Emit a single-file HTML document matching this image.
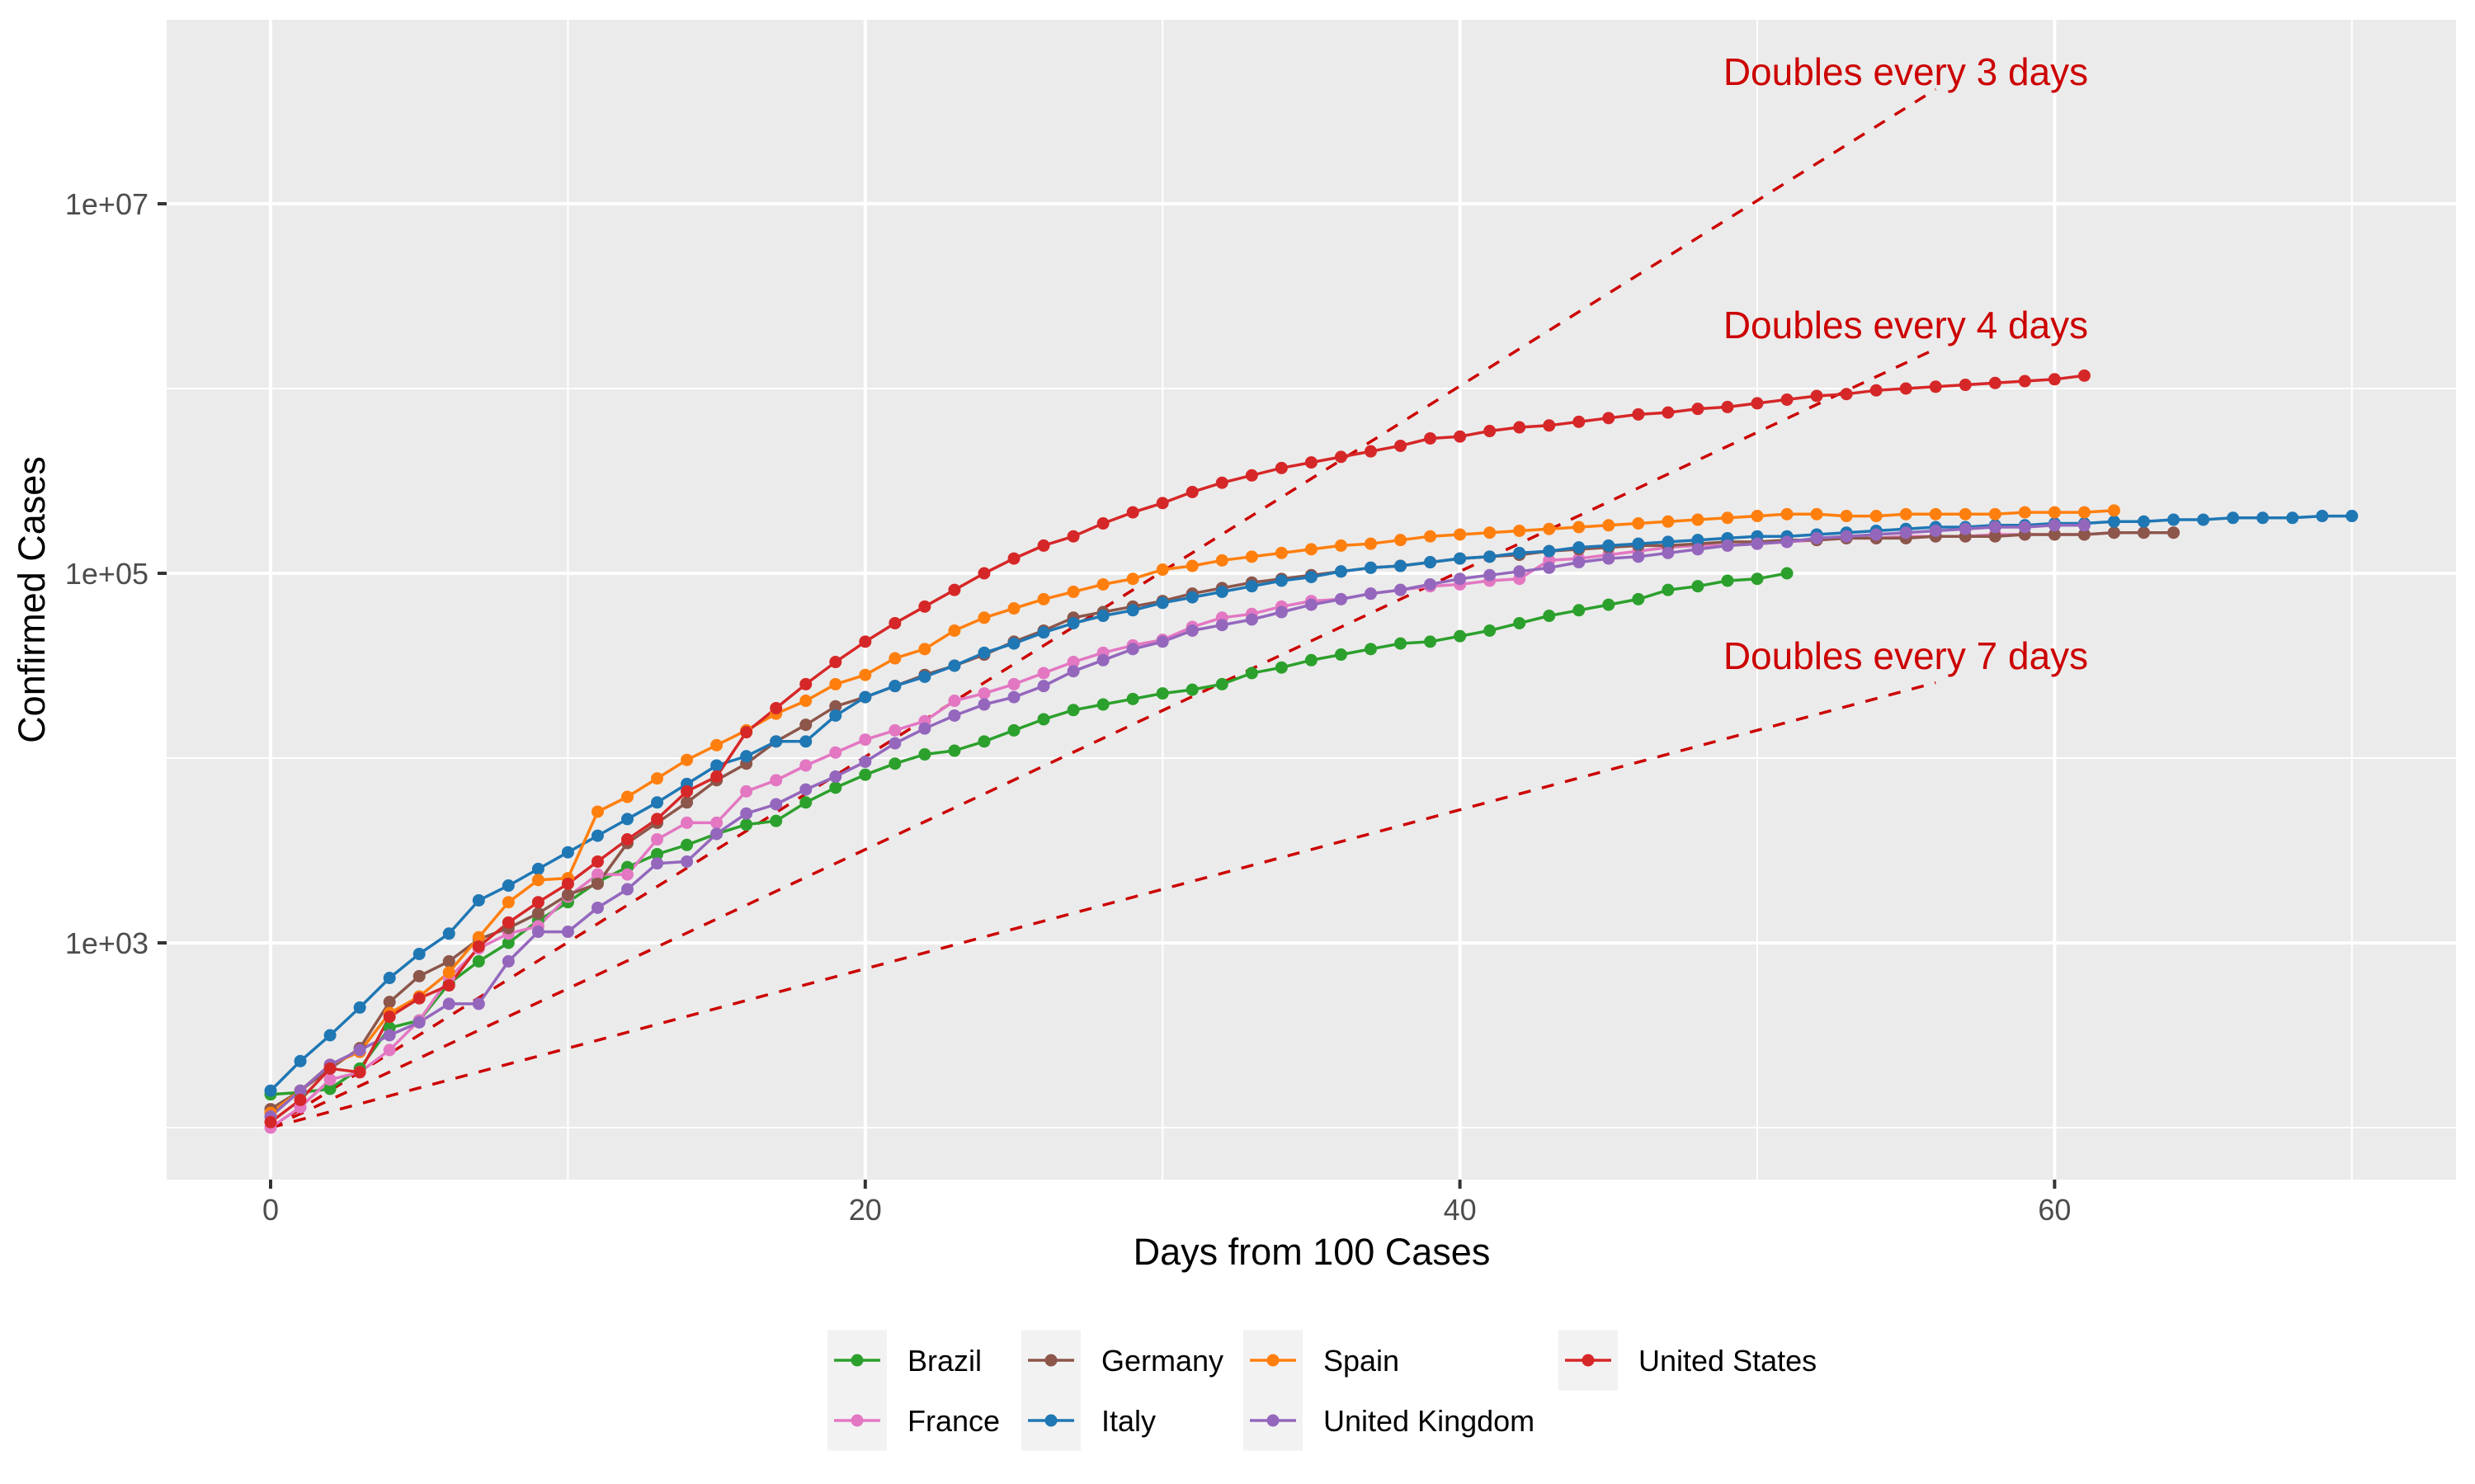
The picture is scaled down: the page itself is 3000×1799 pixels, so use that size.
<!DOCTYPE html>
<html><head><meta charset="utf-8"><style>
html,body{margin:0;padding:0;background:#fff;}
svg{display:block;font-family:"Liberation Sans",Arial,sans-serif;}
</style></head><body>
<svg id="chart" width="3000" height="1799" viewBox="0 0 3000 1799" xmlns="http://www.w3.org/2000/svg">
<rect x="202" y="24" width="2775" height="1406" fill="#EBEBEB"/>
<g id="grid"></g>
<g id="dbl"></g>
<g id="series"></g>
<g id="axes"></g>
<text x="1590" y="1533" font-size="45" text-anchor="middle" fill="#000">Days from 100 Cases</text>
<text transform="translate(54,727) rotate(-90)" font-size="45" text-anchor="middle" fill="#000">Confirmed Cases</text>
<g id="legend"></g>
</svg>
<script>
const countries = ["Brazil","France","Germany","Italy","Spain","United Kingdom","United States"];
const colors = ["#2CA02C","#E377C2","#8C564B","#1F77B4","#FF7F0E","#9467BD","#D62728"];
// log10(confirmed cases) by day since 100 cases
const brazilLog = [2.18,2.19,2.21,2.32,2.54,2.58,2.78,2.9,3.0,3.12,3.22,3.33,3.41,3.48,3.53,3.59,3.64,3.66,3.76,3.84,3.91,3.97,4.02,4.04,4.09,4.15,4.21,4.26,4.29,4.32,4.35,4.37,4.4,4.46,4.49,4.53,4.56,4.59,4.62,4.63,4.66,4.69,4.73,4.77,4.8,4.83,4.86,4.91,4.93,4.96,4.97,5.0];
const franceLog = [2.0,2.11,2.26,2.3,2.42,2.58,2.81,2.97,3.05,3.09,3.25,3.37,3.37,3.56,3.65,3.65,3.82,3.88,3.96,4.03,4.1,4.15,4.2,4.31,4.35,4.4,4.46,4.52,4.57,4.61,4.64,4.71,4.76,4.78,4.82,4.85,4.86,4.89,4.91,4.93,4.94,4.96,4.97,5.07,5.08,5.1,5.12,5.14,5.15,5.15,5.16,5.17,5.18,5.19,5.19,5.2,5.2,5.2,5.21,5.21,5.21,5.21,5.22,5.22,5.22];
const germanyLog = [2.1,2.2,2.32,2.43,2.68,2.82,2.9,3.02,3.08,3.16,3.26,3.32,3.54,3.65,3.76,3.88,3.97,4.09,4.18,4.28,4.33,4.39,4.45,4.5,4.56,4.63,4.69,4.76,4.79,4.82,4.85,4.89,4.92,4.95,4.97,4.99,5.01,5.03,5.04,5.06,5.08,5.09,5.1,5.12,5.13,5.14,5.15,5.15,5.16,5.17,5.17,5.18,5.18,5.19,5.19,5.19,5.2,5.2,5.2,5.21,5.21,5.21,5.22,5.22,5.22];
const italyLog = [2.2,2.36,2.5,2.65,2.81,2.94,3.05,3.23,3.31,3.4,3.49,3.58,3.67,3.76,3.86,3.96,4.01,4.09,4.09,4.23,4.33,4.39,4.44,4.5,4.57,4.62,4.68,4.73,4.77,4.8,4.84,4.87,4.9,4.93,4.96,4.98,5.01,5.03,5.04,5.06,5.08,5.09,5.11,5.12,5.14,5.15,5.16,5.17,5.18,5.19,5.2,5.2,5.21,5.22,5.23,5.24,5.25,5.25,5.26,5.26,5.27,5.27,5.28,5.28,5.29,5.29,5.3,5.3,5.3,5.31,5.31];
const spainLog = [2.08,2.2,2.34,2.41,2.62,2.71,2.84,3.03,3.22,3.34,3.35,3.71,3.79,3.89,3.99,4.07,4.15,4.24,4.31,4.4,4.45,4.54,4.59,4.69,4.76,4.81,4.86,4.9,4.94,4.97,5.02,5.04,5.07,5.09,5.11,5.13,5.15,5.16,5.18,5.2,5.21,5.22,5.23,5.24,5.25,5.26,5.27,5.28,5.29,5.3,5.31,5.32,5.32,5.31,5.31,5.32,5.32,5.32,5.32,5.33,5.33,5.33,5.34];
const ukLog = [2.06,2.2,2.34,2.42,2.5,2.57,2.67,2.67,2.9,3.06,3.06,3.19,3.29,3.43,3.44,3.59,3.7,3.75,3.83,3.9,3.98,4.08,4.16,4.23,4.29,4.33,4.39,4.47,4.53,4.59,4.63,4.69,4.72,4.75,4.79,4.83,4.86,4.89,4.91,4.94,4.97,4.99,5.01,5.03,5.06,5.08,5.09,5.11,5.13,5.15,5.16,5.17,5.19,5.2,5.21,5.22,5.23,5.24,5.25,5.25,5.26,5.26];
const usLog = [2.03,2.15,2.32,2.3,2.6,2.7,2.77,2.98,3.11,3.22,3.32,3.44,3.56,3.67,3.82,3.9,4.14,4.27,4.4,4.52,4.63,4.73,4.82,4.91,5.0,5.08,5.15,5.2,5.27,5.33,5.38,5.44,5.49,5.53,5.57,5.6,5.63,5.66,5.69,5.73,5.74,5.77,5.79,5.8,5.82,5.84,5.86,5.87,5.89,5.9,5.92,5.94,5.96,5.97,5.99,6.0,6.01,6.02,6.03,6.04,6.05,6.07];
const seriesLog = [brazilLog,franceLog,germanyLog,italyLog,spainLog,ukLog,usLog];
const doublingDays = [3,4,7];
const doublingLabels = ["Doubles every 3 days","Doubles every 4 days","Doubles every 7 days"];
const xTicks = [0,20,40,60];
const xMinor = [10,30,50,70];
const yTicks = [3,5,7];
const yTickLabels = ["1e+03","1e+05","1e+07"];
const yMinor = [2,4,6];

const NS="http://www.w3.org/2000/svg";
const PX0=202,PX1=2977,PY0=24,PY1=1430;
function xs(d){return 328+d*36.04;}
function ys(l){return 1143-(l-3)*224;}
function mk(tag,attrs,parent){const e=document.createElementNS(NS,tag);for(const k in attrs)e.setAttribute(k,attrs[k]);parent.appendChild(e);return e;}

const grid=document.getElementById('grid');
yMinor.forEach(v=>{const l=mk('line',{x1:PX0,x2:PX1,y1:ys(v),y2:ys(v),stroke:'#fff','stroke-width':2},grid);

});
xMinor.forEach(v=>{const l=mk('line',{x1:xs(v),x2:xs(v),y1:PY0,y2:PY1,stroke:'#fff','stroke-width':2},grid);

});
yTicks.forEach(v=>{const l=mk('line',{x1:PX0,x2:PX1,y1:ys(v),y2:ys(v),stroke:'#fff','stroke-width':4},grid);

});
xTicks.forEach(v=>{const l=mk('line',{x1:xs(v),x2:xs(v),y1:PY0,y2:PY1,stroke:'#fff','stroke-width':4},grid);

});

const axes=document.getElementById('axes');
yTicks.forEach((v,i)=>{
 const t=mk('line',{x1:191,x2:PX0,y1:ys(v),y2:ys(v),stroke:'#333','stroke-width':4},axes);
 
 
 const tx=mk('text',{x:180,y:ys(v)+13,'font-size':36,'text-anchor':'end',fill:'#4D4D4D'},axes);
 tx.textContent=yTickLabels[i];
 
 
});
xTicks.forEach(v=>{
 const t=mk('line',{x1:xs(v),x2:xs(v),y1:PY1,y2:PY1+11,stroke:'#333','stroke-width':4},axes);
 
 
 const tx=mk('text',{x:xs(v),y:1479,'font-size':36,'text-anchor':'middle',fill:'#4D4D4D'},axes);
 tx.textContent=String(v);
 
 
});

const dbl=document.getElementById('dbl');
const labelBase=[103,410,811];
doublingDays.forEach((dd,i)=>{
 const endDay=56;
 const l=mk('line',{x1:xs(0),y1:ys(2),x2:xs(endDay),y2:ys(2+endDay/dd*Math.log10(2)),stroke:'#CC0000','stroke-width':3.5,'stroke-dasharray':'15 14'},dbl);
 
 
 const t=mk('text',{x:2310,y:labelBase[i],'font-size':46,'text-anchor':'middle',fill:'#CC0000'},dbl);
 t.textContent=doublingLabels[i];
 
 
});

const sg=document.getElementById('series');
seriesLog.forEach((arr,ci)=>{
 const pts=arr.map((v,d)=>xs(d).toFixed(1)+','+ys(v).toFixed(1)).join(' ');
 const pl=mk('polyline',{points:pts,fill:'none',stroke:colors[ci],'stroke-width':3.5,'stroke-linejoin':'round'},sg);
 
 
});
seriesLog.forEach((arr,ci)=>{
 arr.forEach((v,d)=>{
  const c=mk('circle',{cx:xs(d),cy:ys(v),r:7.5,fill:colors[ci]},sg);
  
  
 });
});

const lg=document.getElementById('legend');
const keyX=[1003,1238,1507,1889];
const rowY=[1649,1722];
const order=[[0,1],[2,3],[4,5],[6]];
order.forEach((col,cx)=>{
 col.forEach((ci,r)=>{
  const cy=rowY[r];
  const bg=mk('rect',{x:keyX[cx],y:cy-36.5,width:72,height:73,fill:'#F2F2F2'},lg);
  
  
  const ln=mk('line',{x1:keyX[cx]+8,x2:keyX[cx]+64,y1:cy,y2:cy,stroke:colors[ci],'stroke-width':3.5},lg);
  
  
  const dot=mk('circle',{cx:keyX[cx]+36,cy:cy,r:7.5,fill:colors[ci]},lg);
  
  
  const t=mk('text',{x:keyX[cx]+97,y:cy+13,'font-size':36,fill:'#000'},lg);
  t.textContent=countries[ci];
  
  
 });
});
</script>
</body></html>
